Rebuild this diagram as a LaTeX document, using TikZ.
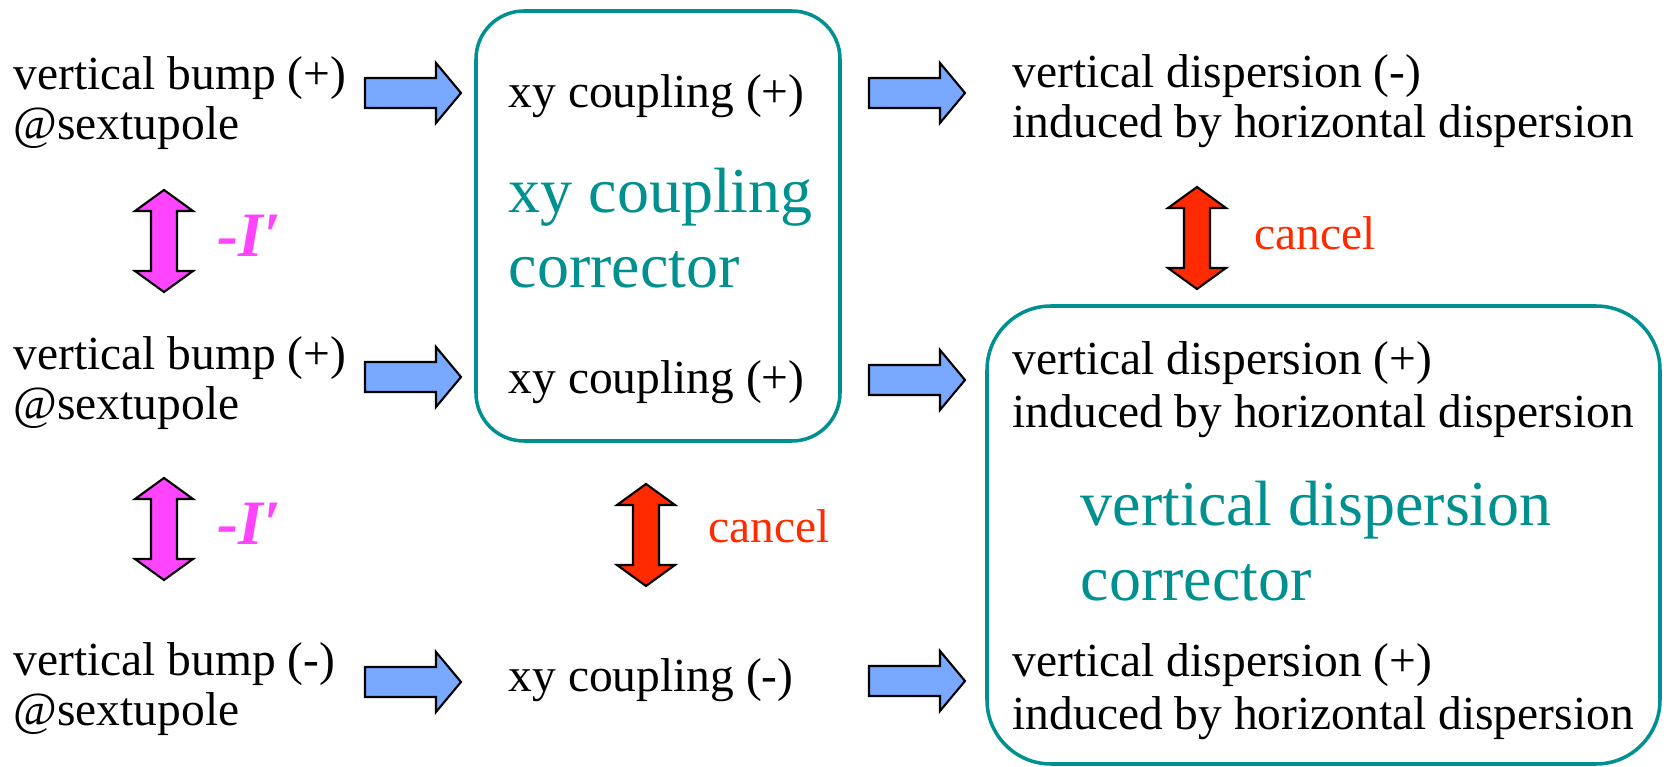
\documentclass[tikz,border=0pt]{standalone}
\usepackage{fontspec}
\setmainfont{Liberation Serif}
\usepackage{tikz}
\definecolor{flowBlue}{HTML}{78A8FF}
\definecolor{swapPink}{HTML}{FF44FF}
\definecolor{cancelRed}{HTML}{FF2A00}
\definecolor{corrTeal}{HTML}{009090}

\begin{document}
\begin{tikzpicture}[
  x=0.01cm,y=-0.01cm,
  every node/.style={inner sep=0pt},
  txt/.style={align=left,anchor=west,font=\fontsize{13.5}{14.2}\selectfont},
  boxtxt/.style={txt,font=\fontsize{13.5}{15}\selectfont},
  big/.style={align=left,anchor=west,text=corrTeal,font=\fontsize{18.2}{21.3}\selectfont},
  flip/.style={anchor=base west,text=swapPink,font=\fontsize{18}{20}\selectfont\bfseries\itshape},
  cnl/.style={anchor=base west,text=cancelRed,font=\fontsize{13.5}{14.2}\selectfont},
  corrbox/.style={draw=corrTeal,line width=1pt},
  flowarr/.style={draw=black,fill=flowBlue,line width=0.6pt},
  swaparr/.style={draw=black,fill=swapPink,line width=0.6pt},
  cnlarr/.style={draw=black,fill=cancelRed,line width=0.6pt},
  pics/blockarr/.style={code={
    \draw[#1] (-48,-15) -- (23,-15) -- (23,-30) -- (48,0) -- (23,30) -- (23,15) -- (-48,15) -- cycle;}},
  pics/dblarr/.style={code={
    \draw[#1] (0,-51) -- (29,-30) -- (13,-30) -- (13,30) -- (29,30) -- (0,51)
      -- (-29,30) -- (-13,30) -- (-13,-30) -- (-29,-30) -- cycle;}}
]
  \useasboundingbox (0,0) rectangle (1668,767);

  % --- corrector boxes ---
  \draw[corrbox,rounded corners=0.48cm] (476,11) rectangle (840,441);
  \draw[corrbox,rounded corners=0.64cm] (987,306) rectangle (1660,764);

  % --- bumps at sextupoles ---
  \node[txt] (bumpA) at (13,103) {vertical bump (+)\\@sextupole};
  \node[txt] (bumpB) at (13,383) {vertical bump (+)\\@sextupole};
  \node[txt] (bumpC) at (13,689) {vertical bump (-)\\@sextupole};

  \pic at (164,241) {dblarr=swaparr};
  \pic at (164,529) {dblarr=swaparr};
  \node[flip] (flipA) at (217,257) {-I′};
  \node[flip] (flipB) at (217,545) {-I′};

  % --- xy coupling ---
  \pic at (413,93) {blockarr=flowarr};
  \pic at (413,377) {blockarr=flowarr};
  \pic at (413,682) {blockarr=flowarr};

  \node[txt] (xyA) at (508,96) {xy coupling (+)};
  \node[txt] (xyB) at (508,382) {xy coupling (+)};
  \node[txt] (xyC) at (508,680) {xy coupling (-)};
  \node[big] (xyCorr) at (508,228) {xy coupling\\corrector};

  \pic at (646,535) {dblarr=cnlarr};
  \node[cnl] (cnlA) at (708,543) {cancel};

  % --- vertical dispersion ---
  \pic at (917,93) {blockarr=flowarr};
  \pic at (917,380) {blockarr=flowarr};
  \pic at (917,681) {blockarr=flowarr};

  \node[txt] (dispA) at (1012,101) {vertical dispersion (-)\\induced by horizontal dispersion};
  \node[boxtxt] (dispB) at (1012,390) {vertical dispersion (+)\\induced by horizontal dispersion};
  \node[boxtxt] (dispC) at (1012,692) {vertical dispersion (+)\\induced by horizontal dispersion};
  \node[big] (vdCorr) at (1080,541) {vertical dispersion\\corrector};

  \pic at (1197,238) {dblarr=cnlarr};
  \node[cnl] (cnlB) at (1254,250) {cancel};
\end{tikzpicture}
\end{document}
